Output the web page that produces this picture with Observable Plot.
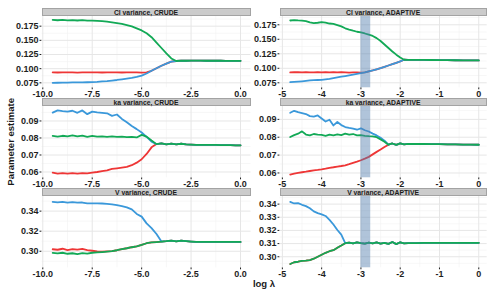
<!DOCTYPE html>
<html><head><meta charset="utf-8">
<script src="https://cdn.jsdelivr.net/npm/d3@7"></script>
<script src="https://cdn.jsdelivr.net/npm/@observablehq/plot@0.6"></script>
<style>
body{margin:0;background:#fff;}
#chart{position:relative;width:495px;height:293px;overflow:hidden;font-family:"Liberation Sans",Arial,sans-serif;}
.strip{position:absolute;box-sizing:border-box;background:#cbcbcb;border:0.6px solid #a3a3a3;font-size:6.8px;font-weight:bold;color:#1a1a1a;text-align:center;white-space:nowrap;}
.pane{position:absolute;}
#titles{position:absolute;left:0;top:0;}
</style>
</head><body><div id="chart"></div>
<script>
// ---- data ----
const seriesNames = ["start 1", "start 2", "start 3"];
const seriesColors = ["#EE3636", "#3A98DA", "#12A956"];
const bandStart = -3.0, bandEnd = -2.75;

const crudeLambda = [-9.5,-9.25,-9,-8.75,-8.5,-8.25,-8,-7.75,-7.5,-7.25,-7,-6.75,-6.5,-6.25,-6,-5.75,-5.5,-5.25,-5,-4.75,-4.5,-4.25,-4,-3.75,-3.5,-3.25,-3,-2.75,-2.5,-2.25,-2,-1.75,-1.5,-1.25,-1,-0.75,-0.5,-0.25,0];
const adaptiveLambda = [-4.8,-4.7,-4.6,-4.5,-4.4,-4.3,-4.2,-4.1,-4.0,-3.9,-3.8,-3.7,-3.6,-3.5,-3.4,-3.3,-3.2,-3.1,-3.0,-2.9,-2.8,-2.7,-2.6,-2.5,-2.4,-2.3,-2.2,-2.1,-2.0,-1.9,-1.8,-1.6,-1.4,-1.2,-1.0,-0.8,-0.6,-0.4,-0.2,0];

// Cl, CRUDE
const clCrudeRed   = [0.0935,0.0932,0.0936,0.0933,0.0935,0.0931,0.0936,0.0934,0.0933,0.0936,0.0932,0.0935,0.0933,0.0936,0.0932,0.0935,0.0933,0.0934,0.0931,0.0933,0.0962,0.1008,0.1052,0.1090,0.1125];
const clCrudeBlue  = [0.0750,0.0751,0.0753,0.0754,0.0756,0.0757,0.0759,0.0760,0.0762,0.0767,0.0774,0.0781,0.0790,0.0800,0.0812,0.0825,0.0838,0.0855,0.0878,0.0915,0.0962,0.1008,0.1052,0.1090,0.1125];
const clCrudeGreen = [0.1862,0.1855,0.1860,0.1852,0.1858,0.1850,0.1856,0.1849,0.1848,0.1843,0.1838,0.1829,0.1818,0.1805,0.1790,0.1770,0.1745,0.1712,0.1675,0.1625,0.1555,0.1460,0.1365,0.1270,0.1180];
const clCrudeTail  = [0.1135,0.1142,0.1140,0.1143,0.1141,0.1142,0.1140,0.1141,0.1140,0.1140,0.1139,0.1139,0.1138,0.1138];
// ka, CRUDE
const kaCrudeRed   = [0.0596,0.0591,0.0593,0.0590,0.0593,0.0591,0.0594,0.0592,0.0596,0.0600,0.0605,0.0610,0.0618,0.0622,0.0626,0.0630,0.0640,0.0655,0.0675,0.0706,0.0745];
const kaCrudeBlue  = [0.0949,0.0962,0.0958,0.0955,0.0960,0.0948,0.0962,0.0940,0.0955,0.0950,0.0948,0.0945,0.0930,0.0938,0.0912,0.0892,0.0870,0.0852,0.0832,0.0806,0.0778];
const kaCrudeGreen = [0.0812,0.0808,0.0813,0.0810,0.0815,0.0809,0.0814,0.0807,0.0812,0.0808,0.0810,0.0807,0.0809,0.0806,0.0808,0.0805,0.0807,0.0803,0.0818,0.0808,0.0785];
const kaCrudeTail  = [0.0764,0.0768,0.0762,0.0767,0.0763,0.0766,0.0762,0.0761,0.0760,0.0760,0.0759,0.0759,0.0759,0.0758,0.0758,0.0758,0.0757,0.0757];
// V, CRUDE
const vCrudeRed    = [0.3020,0.3015,0.3025,0.3012,0.3022,0.3016,0.3023,0.3012,0.3005,0.2998,0.2995,0.2998,0.3002,0.3010,0.3022,0.3030,0.3040,0.3048,0.3063,0.3080,0.3088,0.3092];
const vCrudeBlue   = [0.3493,0.3488,0.3492,0.3485,0.3489,0.3484,0.3486,0.3478,0.3478,0.3477,0.3476,0.3473,0.3468,0.3460,0.3450,0.3437,0.3417,0.3372,0.3345,0.3278,0.3230,0.3172];
const vCrudeGreen  = [0.2983,0.2978,0.2985,0.2975,0.2980,0.2972,0.2982,0.2976,0.2985,0.2988,0.2992,0.2997,0.3002,0.3010,0.3022,0.3030,0.3040,0.3048,0.3063,0.3080,0.3088,0.3092];
const vCrudeTail   = [0.3097,0.3100,0.3105,0.3098,0.3106,0.3101,0.3097,0.3094,0.3093,0.3093,0.3093,0.3093,0.3093,0.3093,0.3093,0.3093,0.3093];
// Cl, ADAPTIVE
const clAdaptRed   = [0.0930,0.0935,0.0932,0.0928,0.0934,0.0931,0.0929,0.0933,0.0930,0.0934,0.0929,0.0932,0.0928,0.0933,0.0930,0.0927,0.0931,0.0928,0.0925,0.0930,0.0946,0.0963,0.0982,0.1002,0.1025,0.1048,0.1072,0.1095,0.1118];
const clAdaptBlue  = [0.0760,0.0765,0.0770,0.0776,0.0783,0.0790,0.0795,0.0798,0.0802,0.0810,0.0818,0.0830,0.0843,0.0855,0.0866,0.0878,0.0890,0.0903,0.0916,0.0930,0.0946,0.0963,0.0982,0.1002,0.1025,0.1048,0.1072,0.1095,0.1118];
const clAdaptGreen = [0.1824,0.1832,0.1826,0.1822,0.1812,0.1790,0.1778,0.1785,0.1795,0.1788,0.1772,0.1765,0.1745,0.1722,0.1690,0.1668,0.1648,0.1630,0.1618,0.1600,0.1580,0.1558,0.1520,0.1470,0.1410,0.1350,0.1290,0.1235,0.1185];
const clAdaptTail  = [0.1147,0.1146,0.1145,0.1144,0.1143,0.1142,0.1140,0.1139,0.1138,0.1137,0.1136];
// ka, ADAPTIVE
const kaAdaptRed   = [0.0591,0.0596,0.0600,0.0604,0.0607,0.0611,0.0615,0.0617,0.0620,0.0624,0.0629,0.0632,0.0636,0.0639,0.0643,0.0649,0.0656,0.0663,0.0671,0.0680,0.0690,0.0704,0.0718,0.0731,0.0745];
const kaAdaptBlue  = [0.0937,0.0948,0.0940,0.0935,0.0930,0.0918,0.0915,0.0922,0.0905,0.0888,0.0898,0.0866,0.0885,0.0868,0.0857,0.0852,0.0848,0.0842,0.0850,0.0839,0.0832,0.0820,0.0810,0.0797,0.0781];
const kaAdaptGreen = [0.0801,0.0812,0.0820,0.0833,0.0815,0.0810,0.0818,0.0815,0.0813,0.0808,0.0815,0.0811,0.0816,0.0812,0.0820,0.0814,0.0818,0.0810,0.0812,0.0808,0.0806,0.0805,0.0800,0.0788,0.0775];
const kaAdaptTail  = [0.0758,0.0765,0.0757,0.0766,0.0760,0.0763,0.0762,0.0762,0.0761,0.0761,0.0760,0.0760,0.0759,0.0759,0.0758];
// V, ADAPTIVE
const vAdaptRed    = [0.2945,0.2958,0.2962,0.2968,0.2970,0.2975,0.2985,0.3000,0.3015,0.3030,0.3042,0.3050,0.3068,0.3085];
const vAdaptBlue   = [0.3417,0.3405,0.3408,0.3395,0.3385,0.3368,0.3345,0.3332,0.3322,0.3310,0.3280,0.3245,0.3203,0.3168];
const vAdaptGreen  = [0.2945,0.2958,0.2962,0.2968,0.2970,0.2975,0.2985,0.3000,0.3015,0.3030,0.3042,0.3050,0.3068,0.3085];
const vAdaptTail   = [0.3103,0.3108,0.3101,0.3110,0.3104,0.3099,0.3107,0.3102,0.3109,0.3100,0.3106,0.3098,0.3112,0.3096,0.3110,0.3102,0.3104,0.3104,0.3105,0.3105,0.3105,0.3105,0.3106,0.3106,0.3106,0.3106];

const crudeTicks = [-10, -7.5, -5, -2.5, 0];
const crudeMinor = [-8.75, -6.25, -3.75, -1.25];
const adaptTicks = [-5, -4, -3, -2, -1, 0];
const adaptMinor = [-4.5, -3.5, -2.5, -1.5, -0.5];
const clTicks = [0.075, 0.1, 0.125, 0.15, 0.175];
const clMinor = [0.0875, 0.1125, 0.1375, 0.1625, 0.1875];
const kaTicks = [0.06, 0.07, 0.08, 0.09];
const kaMinor = [0.065, 0.075, 0.085, 0.095];
const vCrudeTicks = [0.30, 0.32, 0.34];
const vCrudeMinor = [0.29, 0.31, 0.33, 0.35];
const vAdaptTicks = [0.30, 0.31, 0.32, 0.33, 0.34];
const vAdaptMinor = [0.295, 0.305, 0.315, 0.325, 0.335, 0.345];

const stripTitles = ["Cl variance, CRUDE", "Cl variance, ADAPTIVE", "ka variance, CRUDE", "ka variance, ADAPTIVE", "V variance, CRUDE", "V variance, ADAPTIVE"];

// ---- build ----
function build(lambda, pre, tail) {
  const rows = [];
  pre.forEach((vals, s) => {
    vals.concat(tail).forEach((v, i) => rows.push({lambda: lambda[i], value: v, series: seriesNames[s]}));
  });
  return rows;
}

const panels = [
  {row:0, col:0, data: build(crudeLambda, [clCrudeRed, clCrudeBlue, clCrudeGreen], clCrudeTail), yDomain:[0.0662, 0.1921], yTicks: clTicks, yMinor: clMinor, yFmt: d => d.toFixed(3)},
  {row:0, col:1, data: build(adaptiveLambda, [clAdaptRed, clAdaptBlue, clAdaptGreen], clAdaptTail), yDomain:[0.0664, 0.1893], yTicks: clTicks, yMinor: clMinor, yFmt: d => d.toFixed(3)},
  {row:1, col:0, data: build(crudeLambda, [kaCrudeRed, kaCrudeBlue, kaCrudeGreen], kaCrudeTail), yDomain:[0.0566, 0.0985], yTicks: kaTicks, yMinor: kaMinor, yFmt: d => d.toFixed(2)},
  {row:1, col:1, data: build(adaptiveLambda, [kaAdaptRed, kaAdaptBlue, kaAdaptGreen], kaAdaptTail), yDomain:[0.0573, 0.0972], yTicks: kaTicks, yMinor: kaMinor, yFmt: d => d.toFixed(2)},
  {row:2, col:0, data: build(crudeLambda, [vCrudeRed, vCrudeBlue, vCrudeGreen], vCrudeTail), yDomain:[0.2835, 0.3546], yTicks: vCrudeTicks, yMinor: vCrudeMinor, yFmt: d => d.toFixed(2)},
  {row:2, col:1, data: build(adaptiveLambda, [vAdaptRed, vAdaptBlue, vAdaptGreen], vAdaptTail), yDomain:[0.2916, 0.3458], yTicks: vAdaptTicks, yMinor: vAdaptMinor, yFmt: d => d.toFixed(2)}
];

// ---- layout ----
const cols = [
  {svgLeft: 0, width: 251.5, ml: 41.5, mr: 1, xDomain: [-10.04, 0.53], xTicks: crudeTicks, xMinor: crudeMinor, xFmt: d => d.toFixed(1), band: false},
  {svgLeft: 250, width: 237.7, ml: 29.5, mr: 1, xDomain: [-5.06, 0.214], xTicks: adaptTicks, xMinor: adaptMinor, xFmt: d => String(d), band: true}
];
const rowStep = 90.2, firstStrip = 7.5, stripH = 8.5, panelH = 71.3, mt = 1, mb = 14;
const font = '"Liberation Sans", Arial, sans-serif';
const chart = document.getElementById("chart");

panels.forEach((p, k) => {
  const c = cols[p.col];
  const stripTop = firstStrip + p.row * rowStep;
  const panelTop = stripTop + stripH;
  const strip = document.createElement("div");
  strip.className = "strip";
  strip.style.left = (c.svgLeft + c.ml) + "px";
  strip.style.width = (c.width - c.ml - c.mr) + "px";
  strip.style.top = stripTop + "px";
  strip.style.height = stripH + "px";
  strip.style.lineHeight = (stripH - 1) + "px";
  strip.textContent = stripTitles[k];
  chart.appendChild(strip);

  const marks = [
    Plot.gridX(c.xMinor, {stroke: "#f2f2f2", strokeOpacity: 1, strokeWidth: 0.6}),
    Plot.gridY(p.yMinor, {stroke: "#f2f2f2", strokeOpacity: 1, strokeWidth: 0.6}),
    Plot.gridX(c.xTicks, {stroke: "#e6e6e6", strokeOpacity: 1, strokeWidth: 1}),
    Plot.gridY(p.yTicks, {stroke: "#e6e6e6", strokeOpacity: 1, strokeWidth: 1}),
    Plot.line(p.data, {x: "lambda", y: "value", z: "series", stroke: "series", strokeWidth: 1.8, strokeLinejoin: "round"})
  ];
  if (c.band) marks.push(Plot.rect([{x1: bandStart, x2: bandEnd}], {x1: "x1", x2: "x2", fill: "#4F7CAC", fillOpacity: 0.45}));

  const svg = Plot.plot({
    width: c.width,
    height: mt + panelH + mb,
    marginLeft: c.ml, marginRight: c.mr, marginTop: mt, marginBottom: mb,
    style: {fontFamily: font, fontSize: "9px", fontWeight: "bold", color: "#1e1e1e", background: "transparent", overflow: "visible"},
    x: {domain: c.xDomain, ticks: c.xTicks, tickFormat: c.xFmt, tickSize: 2, tickPadding: 1, label: null},
    y: {domain: p.yDomain, ticks: p.yTicks, tickFormat: p.yFmt, tickSize: 2, tickPadding: 1.5, label: null},
    color: {domain: seriesNames, range: seriesColors},
    marks
  });
  const wrap = document.createElement("div");
  wrap.className = "pane";
  wrap.style.left = c.svgLeft + "px";
  wrap.style.top = (panelTop - mt) + "px";
  wrap.appendChild(svg);
  chart.appendChild(wrap);
});

// axis titles
const ns = "http://www.w3.org/2000/svg";
const t = document.createElementNS(ns, "svg");
t.setAttribute("id", "titles");
t.setAttribute("width", 495); t.setAttribute("height", 293);
t.innerHTML = `<text transform="translate(13.8,141.8) rotate(-90)" text-anchor="middle" font-family='${font}' font-weight="bold" font-size="9.5" fill="#1a1a1a">Parameter estimate</text>
<text x="264" y="286.5" text-anchor="middle" font-family='${font}' font-weight="bold" font-size="9.5" fill="#1a1a1a">log λ</text>`;
chart.appendChild(t);
</script>
</body></html>
